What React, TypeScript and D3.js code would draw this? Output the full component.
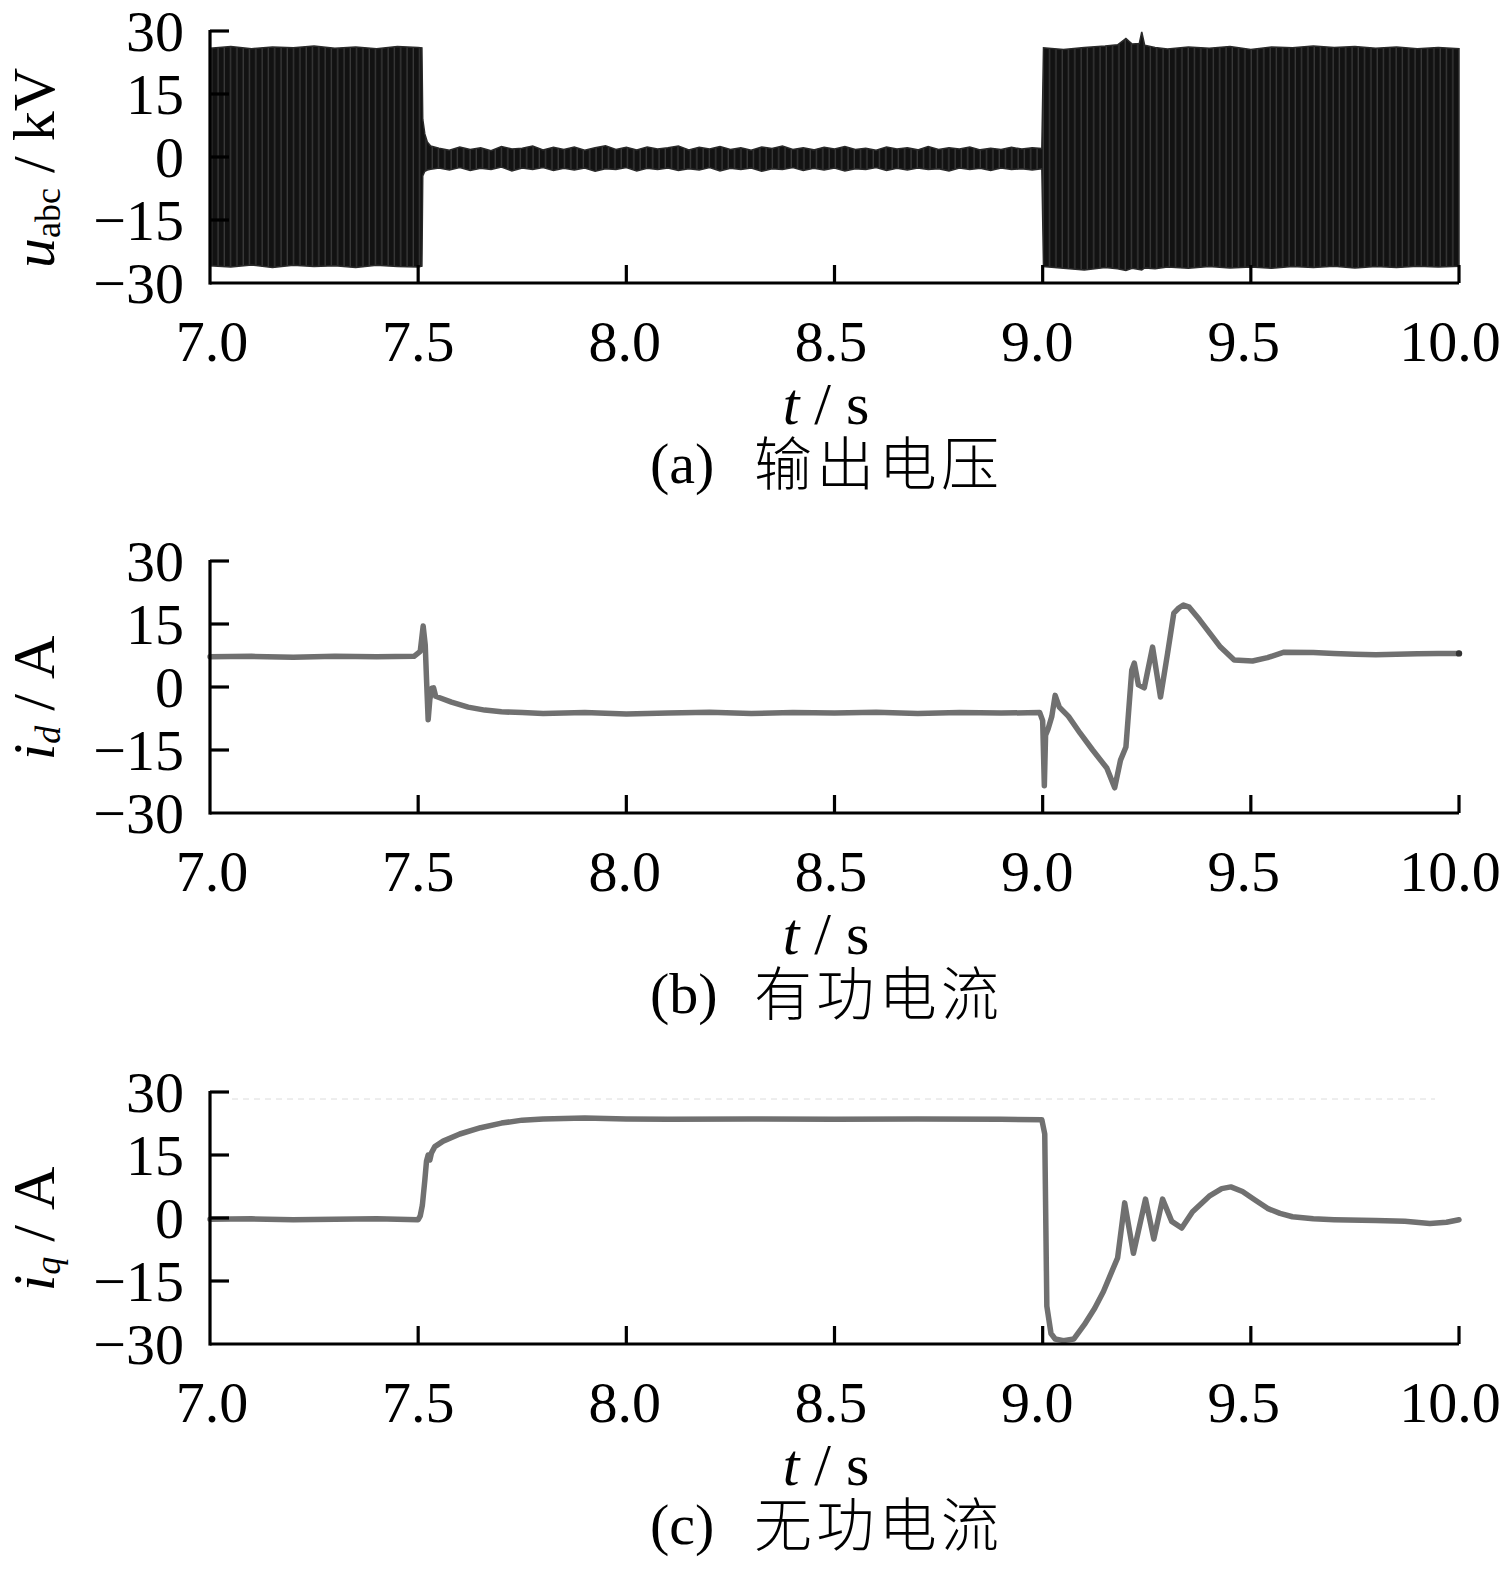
import React from "react";
import * as d3 from "d3";

// ---------- data ----------
const xTicks = [7.0, 7.5, 8.0, 8.5, 9.0, 9.5, 10.0];
const yTicks = [30, 15, 0, -15, -30];

// panel (a): envelope of the three-phase output voltage [t, upper, lower] (kV)
const uEnvelope: [number, number, number][] = [
  [7.0, 25.9, -25.9], [7.05, 26.3, -26.2], [7.1, 25.8, -25.7], [7.15, 26.2, -26.3],
  [7.2, 26.0, -25.8], [7.25, 26.4, -26.1], [7.3, 25.9, -25.9], [7.35, 26.2, -26.3],
  [7.4, 25.8, -25.8], [7.45, 26.3, -26.1], [7.5, 26.1, -26.2], [7.509, 26.0, -26.0],
  [7.511, 9.0, -4.5], [7.516, 5.5, -3.4], [7.522, 3.6, -3.1], [7.53, 2.6, -2.9],
  [7.55, 2.1, -2.6], [7.575, 1.6, -3.1], [7.6, 2.4, -2.5], [7.625, 1.8, -3.2],
  [7.65, 2.2, -2.7], [7.675, 1.5, -3.0], [7.7, 2.5, -2.4], [7.725, 1.9, -3.3],
  [7.75, 2.1, -2.6], [7.775, 2.6, -3.0], [7.8, 1.7, -2.5], [7.825, 2.3, -3.2],
  [7.85, 1.8, -2.7], [7.875, 2.4, -3.1], [7.9, 1.6, -2.6], [7.925, 2.2, -3.4],
  [7.95, 2.7, -2.8], [7.975, 1.8, -3.0], [8.0, 2.3, -2.5], [8.025, 1.7, -3.3],
  [8.05, 2.4, -2.7], [8.075, 1.9, -3.0], [8.1, 2.2, -2.6], [8.125, 2.6, -3.2],
  [8.15, 1.7, -2.8], [8.175, 2.3, -3.1], [8.2, 1.9, -2.5], [8.225, 2.5, -3.3],
  [8.25, 1.8, -2.7], [8.275, 2.2, -3.0], [8.3, 1.6, -2.6], [8.325, 2.4, -3.4],
  [8.35, 2.0, -2.8], [8.375, 2.6, -3.0], [8.4, 1.8, -2.5], [8.425, 2.2, -3.2],
  [8.45, 1.7, -2.7], [8.475, 2.3, -3.1], [8.5, 1.9, -2.6], [8.525, 2.5, -3.3],
  [8.55, 1.8, -2.8], [8.575, 2.1, -3.0], [8.6, 1.6, -2.5], [8.625, 2.4, -3.2],
  [8.65, 1.9, -2.7], [8.675, 2.2, -3.1], [8.7, 1.7, -2.6], [8.725, 2.5, -3.0],
  [8.75, 1.8, -2.8], [8.775, 2.2, -3.3], [8.8, 1.9, -2.6], [8.825, 2.4, -3.0],
  [8.85, 1.7, -2.7], [8.875, 2.1, -3.2], [8.9, 1.8, -2.6], [8.925, 2.3, -3.0],
  [8.95, 1.9, -2.8], [8.975, 2.2, -3.1], [8.998, 2.0, -2.8],
  [9.002, 26.0, -26.1], [9.05, 25.6, -26.5], [9.1, 26.1, -26.9], [9.15, 26.4, -26.3],
  [9.18, 26.7, -26.6], [9.2, 28.2, -27.0], [9.215, 26.9, -26.5], [9.232, 27.0, -26.8],
  [9.238, 29.8, -26.9], [9.245, 26.6, -26.4], [9.27, 26.1, -26.6], [9.3, 25.7, -26.2],
  [9.35, 26.2, -26.5], [9.4, 25.9, -26.1], [9.45, 26.3, -26.4], [9.5, 25.6, -26.2],
  [9.55, 26.2, -26.5], [9.6, 26.0, -26.1], [9.65, 26.4, -26.3], [9.7, 26.1, -26.0],
  [9.75, 26.3, -26.4], [9.8, 25.9, -26.1], [9.85, 26.2, -26.3], [9.9, 25.8, -26.0],
  [9.95, 26.1, -26.2], [10.0, 25.8, -26.0],
];

// panel (b): active current i_d [t, A]
const idSeries: [number, number][] = [
  [7.0, 7.2], [7.1, 7.3], [7.2, 7.1], [7.3, 7.3], [7.4, 7.2], [7.49, 7.3],
  [7.505, 8.5], [7.512, 14.5], [7.517, 10], [7.52, 2], [7.524, -7.8], [7.528, -3],
  [7.533, -0.3], [7.537, -0.2], [7.542, -2.2], [7.55, -2.5], [7.58, -3.6],
  [7.62, -4.8], [7.66, -5.5], [7.7, -5.9], [7.75, -6.1], [7.8, -6.3], [7.9, -6.1],
  [8.0, -6.4], [8.1, -6.2], [8.2, -6.0], [8.3, -6.3], [8.4, -6.1], [8.5, -6.2],
  [8.6, -6.0], [8.7, -6.3], [8.8, -6.1], [8.9, -6.2], [8.993, -6.1], [9.0, -8],
  [9.004, -23.5], [9.007, -11.5], [9.013, -10], [9.022, -7], [9.03, -2.0],
  [9.04, -4.8], [9.062, -7], [9.09, -11], [9.12, -15], [9.154, -19.3],
  [9.173, -24], [9.187, -17.4], [9.2, -14.3], [9.214, 4], [9.22, 5.7], [9.23, 0.5],
  [9.244, -0.2], [9.264, 9.5], [9.283, -2.4], [9.3, 8], [9.315, 17.6],
  [9.327, 18.8], [9.338, 19.5], [9.352, 19.0], [9.377, 16], [9.427, 9.5],
  [9.46, 6.4], [9.504, 6.2], [9.54, 7.0], [9.58, 8.3], [9.65, 8.2], [9.7, 8.0],
  [9.75, 7.8], [9.8, 7.7], [9.85, 7.8], [9.9, 7.9], [9.95, 8.0], [10.0, 8.0],
];

// panel (c): reactive current i_q [t, A]
const iqSeries: [number, number][] = [
  [7.0, -0.3], [7.1, -0.2], [7.2, -0.4], [7.3, -0.3], [7.4, -0.2], [7.5, -0.4],
  [7.505, 0.5], [7.51, 3], [7.516, 9], [7.52, 13.5], [7.524, 15], [7.528, 13.8],
  [7.532, 15.5], [7.54, 17], [7.56, 18.3], [7.6, 20.0], [7.65, 21.5], [7.7, 22.6],
  [7.75, 23.3], [7.8, 23.6], [7.9, 23.8], [8.0, 23.6], [8.1, 23.5], [8.3, 23.6],
  [8.5, 23.5], [8.7, 23.6], [8.9, 23.5], [8.998, 23.4], [9.005, 20], [9.01, -21],
  [9.02, -27.5], [9.03, -28.8], [9.05, -29.2], [9.075, -28.8], [9.1, -25.4],
  [9.125, -21.5], [9.146, -17.5], [9.165, -13], [9.18, -9.5], [9.197, 3.6],
  [9.218, -8.4], [9.247, 4.5], [9.267, -5], [9.288, 4.5], [9.31, -0.8],
  [9.334, -2.4], [9.36, 1.5], [9.4, 5.2], [9.43, 7.0], [9.452, 7.4], [9.48, 6.3],
  [9.51, 4.3], [9.54, 2.3], [9.57, 1.1], [9.6, 0.3], [9.65, -0.2], [9.7, -0.4],
  [9.8, -0.6], [9.87, -0.8], [9.93, -1.3], [9.97, -1.0], [10.0, -0.4],
];

const captions = ["(a)", "(b)", "(c)"];
const captionTexts = ["输出电压", "有功电流", "无功电流"];

// ---------- layout ----------
const W = 1505;
const H = 1584;
const X0 = 210;
const X1 = 1459;
const PANEL_TOPS = [31, 561, 1092];
const PH = 252;
const SERIF = "'Liberation Serif', 'Times New Roman', serif";
const CJK = "'Noto Sans CJK SC', 'Noto Sans CJK JP', sans-serif";
const TICK_FS = 58;
const LABEL_FS = 60;

const x = d3.scaleLinear().domain([7, 10]).range([X0, X1]);
const xLabel = d3.scaleLinear().domain([7, 10]).range([212, 1450]);

const fmtY = (v: number) => (v < 0 ? "\u2212" + Math.abs(v) : String(v));

function Axes({ top }: { top: number }) {
  const y = d3.scaleLinear().domain([-30, 30]).range([top + PH, top]);
  const bottom = top + PH;
  return (
    <g>
      <line x1={X0} x2={X1} y1={bottom} y2={bottom} stroke="#000" strokeWidth={3.2} />
      <line x1={X0} x2={X0} y1={top - 1} y2={bottom + 1.6} stroke="#000" strokeWidth={3.2} />
      {yTicks.map((v) => (
        <g key={"y" + v}>
          {v !== -30 && (
            <line x1={X0} x2={X0 + 19} y1={y(v)} y2={y(v)} stroke="#000" strokeWidth={3.2} />
          )}
          <text
            x={184}
            y={y(v) + 20}
            textAnchor="end"
            fontFamily={SERIF}
            fontSize={TICK_FS}
            fill="#000"
          >
            {fmtY(v)}
          </text>
        </g>
      ))}
      {xTicks.map((t) => (
        <g key={"x" + t}>
          {t !== 7 && (
            <line x1={x(t)} x2={x(t)} y1={bottom} y2={bottom - 18} stroke="#000" strokeWidth={3.2} />
          )}
          <text
            x={xLabel(t)}
            y={bottom + 78}
            textAnchor="middle"
            fontFamily={SERIF}
            fontSize={TICK_FS}
            fill="#000"
          >
            {t.toFixed(1)}
          </text>
        </g>
      ))}
      <text x={826} y={top + 393} textAnchor="middle" fontFamily={SERIF} fontSize={LABEL_FS} fill="#000">
        <tspan fontStyle="italic">t</tspan>
        <tspan>{"\u00a0/\u00a0s"}</tspan>
      </text>
    </g>
  );
}

function Caption({ top, i }: { top: number; i: number }) {
  const base = top + 452;
  return (
    <g>
      <text x={650} y={base} fontFamily={SERIF} fontSize={58} fill="#000">
        {captions[i]}
      </text>
      <text
        x={754}
        y={base + 2}
        fontFamily={CJK}
        fontSize={58}
        fontWeight={300}
        fill="#000"
        textLength={245}
        lengthAdjust="spacing"
      >
        {captionTexts[i]}
      </text>
    </g>
  );
}

function YLabel({ top, main, sub, unit, subItalic }: { top: number; main: string; sub: string; unit: string; subItalic: boolean }) {
  return (
    <text
      transform={`translate(54, ${top + 137}) rotate(-90)`}
      textAnchor="middle"
      fontFamily={SERIF}
      fontSize={LABEL_FS}
      fill="#000"
    >
      <tspan fontStyle="italic">{main}</tspan>
      <tspan fontSize={36} dy={6} fontStyle={subItalic ? "italic" : "normal"}>
        {sub}
      </tspan>
      <tspan dy={-6}>{"\u00a0/\u00a0" + unit}</tspan>
    </text>
  );
}

export default function App() {
  const [ta, tb, tc] = PANEL_TOPS;
  const ya = d3.scaleLinear().domain([-30, 30]).range([ta + PH, ta]);
  const yb = d3.scaleLinear().domain([-30, 30]).range([tb + PH, tb]);
  const yc = d3.scaleLinear().domain([-30, 30]).range([tc + PH, tc]);

  const area = d3
    .area<[number, number, number]>()
    .x((d) => x(d[0]))
    .y0((d) => ya(d[2]))
    .y1((d) => ya(d[1]))
    .curve(d3.curveLinear);

  const lineB = d3
    .line<[number, number]>()
    .x((d) => x(d[0]))
    .y((d) => yb(d[1]));
  const lineC = d3
    .line<[number, number]>()
    .x((d) => x(d[0]))
    .y((d) => yc(d[1]));

  const idEnd = idSeries[idSeries.length - 1];

  return (
    <svg
      width={W}
      height={H}
      viewBox={`0 0 ${W} ${H}`}
      style={{ position: "absolute", left: 0, top: 0, background: "#fff" }}
    >
      <defs>
        <pattern id="wave" width={6.3} height={10} patternUnits="userSpaceOnUse">
          <rect width={6.3} height={10} fill="#121212" />
          <rect x={3.2} width={1.3} height={10} fill="#3a3a3a" />
        </pattern>
      </defs>
      <rect width={W} height={H} fill="#fff" />

      {/* panel (a) */}
      <path d={area(uEnvelope) || ""} fill="url(#wave)" stroke="#2a2a2a" strokeWidth={1.5} />
      <Axes top={ta} />
      <YLabel top={ta} main="u" sub="abc" unit="kV" subItalic={false} />
      <Caption top={ta} i={0} />

      {/* panel (b) */}
      <path
        d={lineB(idSeries) || ""}
        fill="none"
        stroke="#707070"
        strokeWidth={5.5}
        strokeLinejoin="round"
        strokeLinecap="round"
      />
      <circle cx={x(idEnd[0])} cy={yb(idEnd[1])} r={3.2} fill="#333" />
      <Axes top={tb} />
      <YLabel top={tb} main="i" sub="d" unit="A" subItalic={true} />
      <Caption top={tb} i={1} />

      {/* panel (c) */}
      <line x1={232} x2={1435} y1={tc + 7} y2={tc + 7} stroke="#dcdcdc" strokeWidth={1} strokeDasharray="6 5" />
      <path
        d={lineC(iqSeries) || ""}
        fill="none"
        stroke="#707070"
        strokeWidth={5.5}
        strokeLinejoin="round"
        strokeLinecap="round"
      />
      <Axes top={tc} />
      <YLabel top={tc} main="i" sub="q" unit="A" subItalic={true} />
      <Caption top={tc} i={2} />
    </svg>
  );
}
